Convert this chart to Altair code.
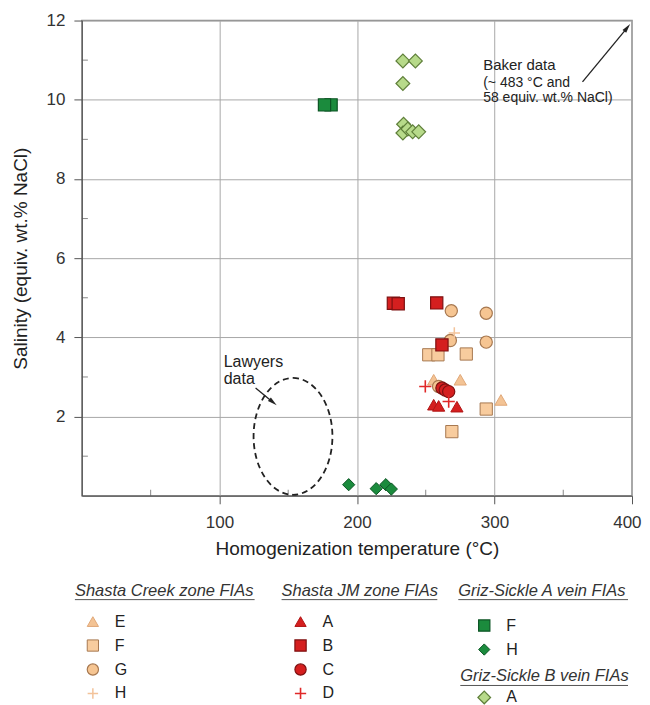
import altair as alt
import pandas as pd

FONT = "Liberation Sans"

# ---------------- data ----------------
# Shasta Creek zone FIAs
sc_E_t = [255.8, 275.1, 304.7]
sc_E_s = [2.93, 2.93, 2.42]
sc_F_t = [252.2, 258.9, 279.5, 294.0, 269.0]
sc_F_s = [3.56, 3.56, 3.58, 2.19, 1.62]
sc_G_t = [268.6, 294.0, 267.9, 294.0, 259.4]
sc_G_s = [4.67, 4.61, 3.92, 3.88, 2.76]
sc_H_t = [270.8]
sc_H_s = [4.11]
# Shasta JM zone FIAs
jm_A_t = [255.8, 259.4, 272.7]
jm_A_s = [2.30, 2.27, 2.25]
jm_B_t = [226.5, 230.0, 258.0, 261.8]
jm_B_s = [4.86, 4.85, 4.87, 3.81]
jm_C_t = [261.8, 264.2, 266.7]
jm_C_s = [2.72, 2.67, 2.63]
jm_D_t = [249.7, 266.7]
jm_D_s = [2.76, 2.38]
# Griz-Sickle A vein FIAs
ga_F_t = [181.2, 176.4]
ga_F_s = [9.87, 9.87]
ga_H_t = [194.0, 214.0, 221.0, 225.0]
ga_H_s = [0.28, 0.18, 0.28, 0.17]
# Griz-Sickle B vein FIAs
gb_A_t = [233.4, 242.5, 233.4, 233.9, 233.4, 237.0, 240.5, 244.9]
gb_A_s = [10.98, 10.98, 10.41, 9.38, 9.16, 9.26, 9.19, 9.19]

series_order = ["SC_E", "SC_F", "SC_G", "SC_H", "JM_A", "JM_B", "JM_C", "JM_D",
                "GA_F", "GA_H", "GB_A"]
series_t = {"SC_E": sc_E_t, "SC_F": sc_F_t, "SC_G": sc_G_t, "SC_H": sc_H_t,
            "JM_A": jm_A_t, "JM_B": jm_B_t, "JM_C": jm_C_t, "JM_D": jm_D_t,
            "GA_F": ga_F_t, "GA_H": ga_H_t, "GB_A": gb_A_t}
series_s = {"SC_E": sc_E_s, "SC_F": sc_F_s, "SC_G": sc_G_s, "SC_H": sc_H_s,
            "JM_A": jm_A_s, "JM_B": jm_B_s, "JM_C": jm_C_s, "JM_D": jm_D_s,
            "GA_F": ga_F_s, "GA_H": ga_H_s, "GB_A": gb_A_s}

# annotation anchors (data units)
lawyers_text = ["Lawyers", "data"]
lawyers_t = [103.1, 103.1]
lawyers_s = [3.26, 2.82]
baker_text = ["Baker data", "(~ 483 °C and", "58 equiv. wt.% NaCl)"]
baker_t = [291.8, 291.8, 291.8]
baker_s = [10.74, 10.32, 9.94]
baker_size = [15, 14, 14]
ellipse_t = [153.5]
ellipse_s = [1.5]
arrow_t0 = [126.3, 364.0]
arrow_s0 = [2.72, 10.45]
arrow_t1 = [138.7, 396.3]
arrow_s1 = [2.37, 11.81]
arrow_angle = [129, 38]

x_ticks = [100, 200, 300, 400]
y_ticks = [2, 4, 6, 8, 10, 12]
x_minor = [50, 150, 250, 350]
y_minor = [1, 3, 5, 7, 9, 11]

# ---------------- styles ----------------
PLUS = "M-1,0L1,0M0,-1L0,1"
ELLIPSE = ("M0,-1C0.3728,-1,0.675,-0.5523,0.675,0C0.675,0.5523,0.3728,1,0,1"
           "C-0.3728,1,-0.675,0.5523,-0.675,0C-0.675,-0.5523,-0.3728,-1,0,-1Z")
ARROW = "M0,-1L0.45,0.8L-0.45,0.8Z"

LO_FILL, LO_STROKE = "#F6C592", "#A77850"
RED_FILL, RED_STROKE = "#D51F1F", "#7E1111"
DG_FILL, DG_STROKE = "#1B8B3D", "#0C5424"
LG_FILL, LG_STROKE = "#B7DA8A", "#5F7F3A"

style = {
    "SC_E": dict(shape="triangle-up", fill="#F3C394", stroke="#E0A878", size=150, sw=1),
    "SC_F": dict(shape="square", fill="#F8CC9E", stroke=LO_STROKE, size=150, sw=1),
    "SC_G": dict(shape="circle", fill=LO_FILL, stroke=LO_STROKE, size=150, sw=1.2),
    "SC_H": dict(shape=PLUS, fill="transparent", stroke="#F3C39A", size=130, sw=1.5),
    "JM_A": dict(shape="triangle-up", fill=RED_FILL, stroke="#B01515", size=150, sw=1),
    "JM_B": dict(shape="square", fill=RED_FILL, stroke=RED_STROKE, size=150, sw=1.2),
    "JM_C": dict(shape="circle", fill=RED_FILL, stroke=RED_STROKE, size=150, sw=1.2),
    "JM_D": dict(shape=PLUS, fill="transparent", stroke="#E02828", size=150, sw=1.6),
    "GA_F": dict(shape="square", fill=DG_FILL, stroke=DG_STROKE, size=150, sw=1.2),
    "GA_H": dict(shape="diamond", fill=DG_FILL, stroke=DG_STROKE, size=150, sw=1),
    "GB_A": dict(shape="diamond", fill=LG_FILL, stroke=LG_STROKE, size=190, sw=1.2),
}

X_SCALE = alt.Scale(domain=[0, 400], nice=False, zero=False)
Y_SCALE = alt.Scale(domain=[0, 12], nice=False, zero=False)
X_AXIS = alt.Axis(values=x_ticks, title="Homogenization temperature (°C)", grid=True,
                  tickSize=8, labelPadding=11, titlePadding=9,
                  labelFlush=True, labelFlushOffset=9)
Y_AXIS = alt.Axis(values=y_ticks, title="Salinity (equiv. wt.% NaCl)", grid=True,
                  tickSize=8, labelPadding=9, titlePadding=16, labelFlush=False)


def enc_xy():
    return dict(x=alt.X("x:Q", scale=X_SCALE, axis=X_AXIS),
                y=alt.Y("y:Q", scale=Y_SCALE, axis=Y_AXIS))


layers = []

# minor ticks (inward)
mx = pd.DataFrame({"x": x_minor, "y": [0] * len(x_minor)})
layers.append(alt.Chart(mx).mark_tick(orient="vertical", size=6, thickness=1,
                                      color="#555", yOffset=-3).encode(**enc_xy()))
my = pd.DataFrame({"x": [0] * len(y_minor), "y": y_minor})
layers.append(alt.Chart(my).mark_tick(orient="horizontal", size=6, thickness=1,
                                      color="#555", xOffset=3).encode(**enc_xy()))

# lawyers ellipse
el = pd.DataFrame({"x": ellipse_t, "y": ellipse_s})
layers.append(alt.Chart(el).mark_point(shape=ELLIPSE, size=13689, filled=False,
                                       stroke="#222", strokeWidth=1.8,
                                       strokeDash=[6, 4], opacity=1).encode(**enc_xy()))

# data points
for key in series_order:
    st = style[key]
    df = pd.DataFrame({"x": series_t[key], "y": series_s[key]})
    layers.append(alt.Chart(df).mark_point(shape=st["shape"], filled=True, fill=st["fill"],
                                           stroke=st["stroke"], strokeWidth=st["sw"],
                                           size=st["size"], opacity=1).encode(**enc_xy()))

# arrows
ar = pd.DataFrame({"x": arrow_t0, "y": arrow_s0, "x2": arrow_t1, "y2": arrow_s1,
                   "ang": arrow_angle})
layers.append(alt.Chart(ar).mark_rule(color="#222", strokeWidth=1.3).encode(
    **enc_xy(), x2="x2:Q", y2="y2:Q"))
ah = pd.DataFrame({"x": arrow_t1, "y": arrow_s1, "ang": arrow_angle})
layers.append(alt.Chart(ah).mark_point(shape=ARROW, filled=True, color="#222", size=110,
                                       opacity=1).encode(
    **enc_xy(), angle=alt.Angle("ang:Q", scale=None)))

# annotation text
lt = pd.DataFrame({"x": lawyers_t, "y": lawyers_s, "txt": lawyers_text})
layers.append(alt.Chart(lt).mark_text(align="left", baseline="alphabetic", font=FONT,
                                      fontSize=16, color="#222").encode(**enc_xy(), text="txt:N"))
bt = pd.DataFrame({"x": baker_t, "y": baker_s, "txt": baker_text, "fs": baker_size})
layers.append(alt.Chart(bt).mark_text(align="left", baseline="alphabetic", font=FONT,
                                      color="#222").encode(
    **enc_xy(), text="txt:N", size=alt.Size("fs:Q", scale=None)))

plot = alt.layer(*layers).properties(
    width=551, height=476,
    view=alt.ViewBackground(stroke="#8a8a8a", strokeWidth=1.5),
)

# ---------------- custom legend ----------------
leg_headers = ["Shasta Creek zone FIAs", "Shasta JM zone FIAs",
               "Griz-Sickle A vein FIAs", "Griz-Sickle B vein FIAs"]
leg_header_x = [-7, 200, 377, 379]
leg_header_y = [22, 22, 22, 108]
leg_header_w = [180, 156, 170, 168]

leg_keys = ["SC_E", "SC_F", "SC_G", "SC_H", "JM_A", "JM_B", "JM_C", "JM_D",
            "GA_F", "GA_H", "GB_A"]
leg_labels = ["E", "F", "G", "H", "A", "B", "C", "D", "F", "H", "A"]
leg_x = [11, 11, 11, 11, 219, 219, 219, 219, 403, 403, 403]
leg_y = [53, 77, 101, 125, 53, 77, 101, 125, 57, 81, 129]
LEG_LABEL_DX = 22

LX = alt.Scale(domain=[0, 551], nice=False, zero=False)
LY = alt.Scale(domain=[0, 135], nice=False, zero=False, reverse=True)

hdf = pd.DataFrame({"x": leg_header_x, "y": leg_header_y, "txt": leg_headers,
                    "x2": [a + b for a, b in zip(leg_header_x, leg_header_w)],
                    "yu": [v + 9 for v in leg_header_y]})
leg_layers = [
    alt.Chart(hdf).mark_text(align="left", baseline="middle", font=FONT, fontSize=16.5,
                             fontStyle="italic", color="#333").encode(
        x=alt.X("x:Q", scale=LX, axis=None), y=alt.Y("y:Q", scale=LY, axis=None),
        text="txt:N"),
    alt.Chart(hdf).mark_rule(color="#555", strokeWidth=1).encode(
        x=alt.X("x:Q", scale=LX, axis=None), x2="x2:Q",
        y=alt.Y("yu:Q", scale=LY, axis=None)),
]
for key, lab, lx, ly in zip(leg_keys, leg_labels, leg_x, leg_y):
    st = style[key]
    d = pd.DataFrame({"x": [lx], "y": [ly], "lx": [lx + LEG_LABEL_DX], "txt": [lab]})
    leg_layers.append(alt.Chart(d).mark_point(shape=st["shape"], filled=True, fill=st["fill"],
                                              stroke=st["stroke"], strokeWidth=st["sw"],
                                              size=int(st["size"] * 0.85), opacity=1).encode(
        x=alt.X("x:Q", scale=LX, axis=None), y=alt.Y("y:Q", scale=LY, axis=None)))
    leg_layers.append(alt.Chart(d).mark_text(align="left", baseline="middle", font=FONT,
                                             fontSize=16, color="#222").encode(
        x=alt.X("lx:Q", scale=LX, axis=None), y=alt.Y("y:Q", scale=LY, axis=None),
        text="txt:N"))

legend = alt.layer(*leg_layers).properties(
    width=551, height=135, view=alt.ViewBackground(stroke="transparent"))

chart = alt.vconcat(plot, legend, spacing=8).properties(
    padding={"left": 2, "top": 2, "right": 0, "bottom": 0}
).configure_axis(
    labelFont=FONT, titleFont=FONT, labelFontSize=17, titleFontSize=19,
    labelColor="#333", titleColor="#222", titleFontWeight="normal",
    domainColor="#555", tickColor="#555", gridColor="#a8a8a8", gridWidth=1,
).configure_text(font=FONT)

chart.save("out.html", embed_options={"renderer": "svg", "actions": False})
